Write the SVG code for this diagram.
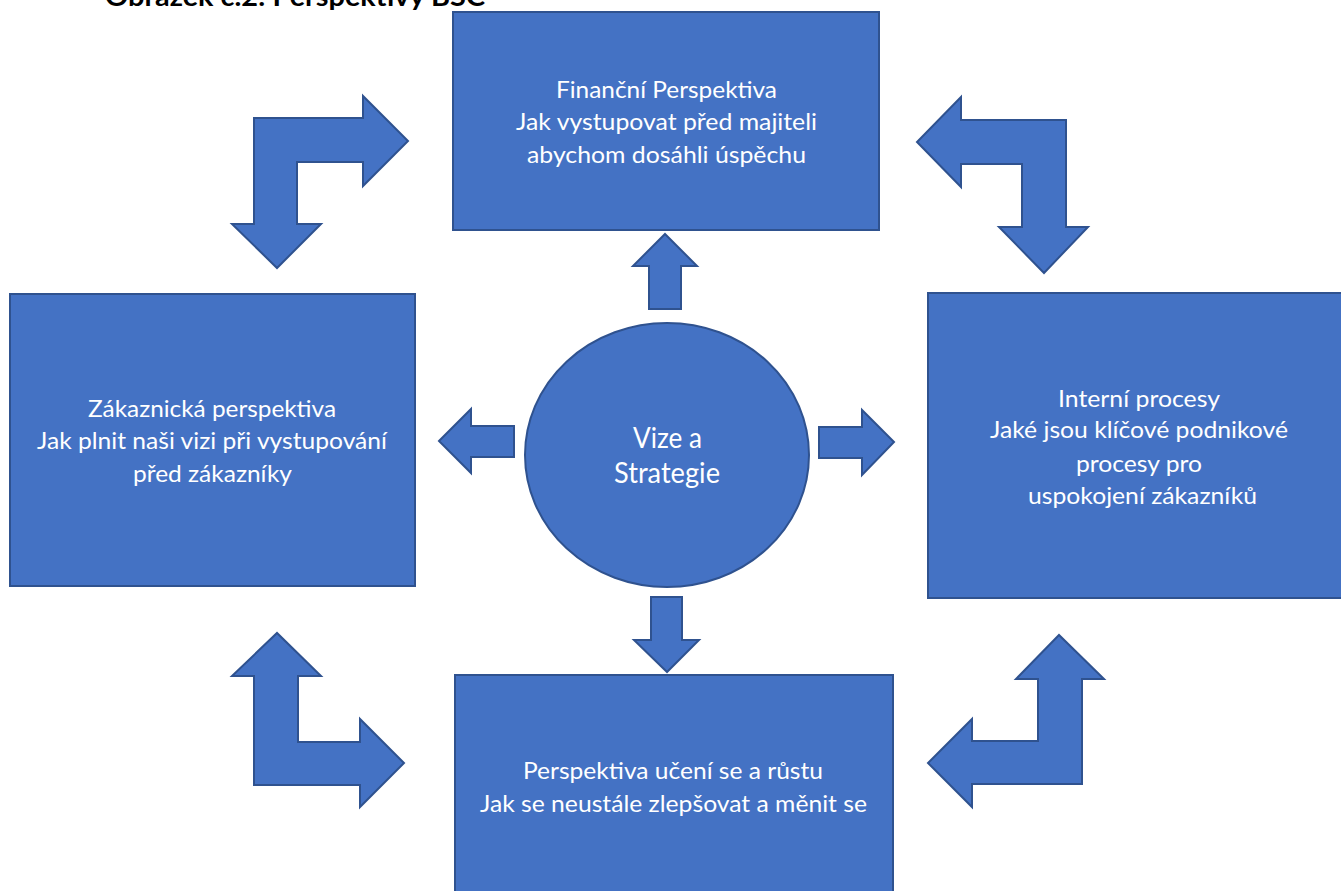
<svg xmlns="http://www.w3.org/2000/svg" width="1341" height="891" viewBox="0 0 1341 891">
<style>
.shape{fill:#4472C4;stroke:#2F528F;stroke-width:2;stroke-linejoin:miter}
.t{font-family:Lato,"Open Sans","Liberation Sans",sans-serif;font-size:24px;fill:#FFFFFF;text-anchor:middle}
.c{font-family:Lato,"Open Sans","Liberation Sans",sans-serif;font-size:29px;fill:#FFFFFF;text-anchor:middle}
.title{font-family:Lato,"Liberation Sans",sans-serif;font-size:27px;font-weight:bold;fill:#000000}
</style>
<rect width="1341" height="891" fill="#FFFFFF"/>
<text class="title" x="105" y="6" textLength="380" lengthAdjust="spacingAndGlyphs">Obrázek č.2: Perspektivy BSC</text>
<g id="connectors">
<polygon class="shape" points="665,234 697,266 681,266 681,309 649,309 649,266 633,266"/>
<polygon class="shape" points="439,441 471,409 471,426 514,426 514,457 471,457 471,473"/>
<polygon class="shape" points="894,442 862,410 862,427 819,427 819,458 862,458 862,475"/>
<polygon class="shape" points="667,672 634,640 651,640 651,597 682,597 682,640 699,640"/>
<polygon class="shape" points="254,118 363,118 363,96 408,141 363,186 363,162 297,162 297,224 321,224 277,268 232,224 254,224"/>
<polygon class="shape" points="1066,120 961,120 961,97 917,142 961,187 961,164 1022,164 1022,227 999,227 1044,273 1088,227 1066,227"/>
<polygon class="shape" points="254,785 254,676 232,676 277,633 321,676 298,676 298,742 360,742 360,719 404,763 360,807 360,785"/>
<polygon class="shape" points="1082,784 1082,679 1104,679 1059,635 1016,679 1038,679 1038,741 972,741 972,719 928,763 972,807 972,784"/>
</g>
<g id="financni">
<rect class="shape" x="453" y="12" width="426" height="218"/>
<text class="t" x="666.5" y="98" textLength="221" lengthAdjust="spacingAndGlyphs">Finanční Perspektiva</text>
<text class="t" x="666.5" y="130" textLength="301" lengthAdjust="spacingAndGlyphs">Jak vystupovat před majiteli</text>
<text class="t" x="666.5" y="163" textLength="279" lengthAdjust="spacingAndGlyphs">abychom dosáhli úspěchu</text>
</g>
<g id="zakaznicka">
<rect class="shape" x="10" y="294" width="405" height="292"/>
<text class="t" x="212" y="417" textLength="248" lengthAdjust="spacingAndGlyphs">Zákaznická perspektiva</text>
<text class="t" x="212" y="449" textLength="350" lengthAdjust="spacingAndGlyphs">Jak plnit naši vizi při vystupování</text>
<text class="t" x="212.5" y="482" textLength="159" lengthAdjust="spacingAndGlyphs">před zákazníky</text>
</g>
<g id="interni">
<rect class="shape" x="928" y="293" width="424" height="305"/>
<text class="t" x="1139" y="407" textLength="162" lengthAdjust="spacingAndGlyphs">Interní procesy</text>
<text class="t" x="1139" y="438" textLength="298" lengthAdjust="spacingAndGlyphs">Jaké jsou klíčové podnikové</text>
<text class="t" x="1139" y="472" textLength="126" lengthAdjust="spacingAndGlyphs">procesy pro</text>
<text class="t" x="1142.5" y="504" textLength="229" lengthAdjust="spacingAndGlyphs">uspokojení zákazníků</text>
</g>
<g id="uceni">
<rect class="shape" x="455" y="675" width="438" height="230"/>
<text class="t" x="673" y="779" textLength="300" lengthAdjust="spacingAndGlyphs">Perspektiva učení se a růstu</text>
<text class="t" x="673.5" y="812" textLength="387" lengthAdjust="spacingAndGlyphs">Jak se neustále zlepšovat a měnit se</text>
</g>
<g id="vize">
<ellipse class="shape" cx="667" cy="455" rx="142" ry="132"/>
<text class="c" x="667.5" y="448" textLength="69" lengthAdjust="spacingAndGlyphs">Vize a</text>
<text class="c" x="667" y="483" textLength="106" lengthAdjust="spacingAndGlyphs">Strategie</text>
</g>
</svg>
